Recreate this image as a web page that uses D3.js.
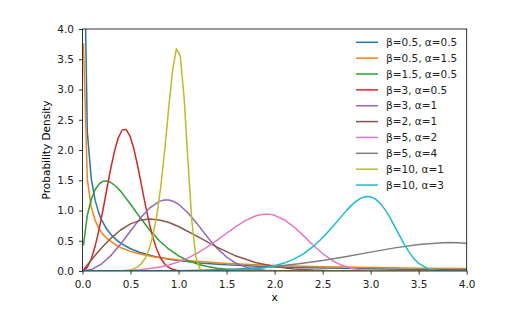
<!DOCTYPE html>
<html>
<head>
<meta charset="utf-8">
<script src="https://cdn.jsdelivr.net/npm/d3@7"></script>
<style>
  body { margin: 0; background: #fff; }
  svg { font-family: "DejaVu Sans", sans-serif; }
</style>
</head>
<body>
<div id="chart"></div>
<script>
// legend labels, one per curve
const labels = [
  'β=0.5, α=0.5', 'β=0.5, α=1.5', 'β=1.5, α=0.5', 'β=3, α=0.5', 'β=3, α=1',
  'β=2, α=1', 'β=5, α=2', 'β=5, α=4', 'β=10, α=1', 'β=10, α=3'
];

// [x, density]
const b05a05 = [[0.01, 6.14], [0.0503, 2.296], [0.0906, 1.535], [0.131, 1.171], [0.171, 0.953], [0.2, 0.840],
  [0.25, 0.697], [0.3, 0.595], [0.35, 0.518], [0.4, 0.457], [0.5, 0.368], [0.6, 0.305], [0.75, 0.240], [0.9, 0.195],
  [1.0, 0.172], [1.25, 0.130], [1.5, 0.102], [2.0, 0.0677], [2.5, 0.0478], [3.0, 0.0353], [3.5, 0.0268], [4.0, 0.0209]];
const b05a15 = [[0.01, 3.763], [0.0503, 1.516], [0.0906, 1.061], [0.131, 0.839], [0.171, 0.704], [0.2, 0.634],
  [0.25, 0.543], [0.35, 0.426], [0.4, 0.385], [0.5, 0.324], [0.6, 0.280], [0.75, 0.232], [1.0, 0.180], [1.5, 0.1226],
  [2.0, 0.0910], [2.5, 0.0710], [3.0, 0.0573], [3.5, 0.0474], [4.0, 0.0399]];
const b15a05 = [[0.01, 0.423], [0.0503, 0.922], [0.0906, 1.182], [0.131, 1.343], [0.171, 1.436], [0.211, 1.482],
  [0.252, 1.489], [0.292, 1.467], [0.35, 1.397], [0.4, 1.312], [0.5, 1.104], [0.6, 0.883], [0.7, 0.677], [0.8, 0.501],
  [0.9, 0.360], [1.0, 0.251], [1.1, 0.170], [1.2, 0.113], [1.3, 0.0731], [1.4, 0.0463], [1.6, 0.0176], [1.8, 0.0061],
  [2.0, 0.002], [2.5, 0.0001], [4.0, 0]];
const b3a05 = [[0.01, 0.0024], [0.0503, 0.0607], [0.0906, 0.196], [0.1309, 0.404], [0.1712, 0.676], [0.2115, 0.996],
  [0.2518, 1.339], [0.2921, 1.678], [0.3324, 1.977], [0.3727, 2.203], [0.413, 2.330], [0.4533, 2.341], [0.4936, 2.234],
  [0.5339, 2.025], [0.5742, 1.740], [0.6145, 1.416], [0.6548, 1.089], [0.6952, 0.790], [0.7355, 0.539], [0.7758, 0.345],
  [0.8161, 0.207], [0.8564, 0.116], [0.8967, 0.0604], [0.937, 0.0293], [0.977, 0.0132], [1.018, 0.0054], [1.2, 0], [4.0, 0]];
const b3a1 = [[0.01, 0.0003], [0.1, 0.03], [0.2, 0.119], [0.3, 0.263], [0.4, 0.450], [0.5, 0.662], [0.6, 0.870],
  [0.7, 1.043], [0.8, 1.151], [0.85, 1.173], [0.9, 1.172], [0.95, 1.149], [1.0, 1.104], [1.1, 0.959], [1.2, 0.767],
  [1.3, 0.563], [1.4, 0.378], [1.5, 0.231], [1.6, 0.128], [1.7, 0.0637], [1.8, 0.0285], [1.9, 0.0114], [2.0, 0.004],
  [2.2, 0.0003], [4.0, 0]];
const b2a1 = [[0.01, 0.02], [0.1, 0.198], [0.2, 0.384], [0.3, 0.548], [0.4, 0.682], [0.5, 0.779], [0.6, 0.837],
  [0.7, 0.858], [0.8, 0.844], [0.9, 0.801], [1.0, 0.736], [1.2, 0.569], [1.4, 0.395], [1.6, 0.247], [1.8, 0.141],
  [2.0, 0.0733], [2.2, 0.0348], [2.4, 0.0151], [2.6, 0.006], [2.8, 0.0022], [3.0, 0.0007], [4.0, 0]];
const b5a2 = [[0.01, 0], [0.4, 0.004], [0.6, 0.0202], [0.8, 0.0633], [0.9, 0.1006], [1.0, 0.1514], [1.1, 0.2176],
  [1.2, 0.2998], [1.3, 0.397], [1.4, 0.5074], [1.5, 0.624], [1.6, 0.7378], [1.7, 0.8374], [1.8, 0.9088], [1.85, 0.9298],
  [1.9, 0.9393], [1.95, 0.936], [2.0, 0.9197], [2.1, 0.848], [2.2, 0.731], [2.3, 0.585], [2.4, 0.430], [2.5, 0.2886],
  [2.6, 0.174], [2.7, 0.0937], [2.8, 0.0444], [2.9, 0.0182], [3.0, 0.0064], [3.2, 0.0005], [4.0, 0]];
const b5a4 = [[0.01, 0], [0.5, 0.0003], [1.0, 0.0049], [1.5, 0.0247], [1.75, 0.0451], [2.0, 0.0757], [2.25, 0.1183],
  [2.5, 0.1734], [2.75, 0.2395], [3.0, 0.312], [3.25, 0.3823], [3.5, 0.4388], [3.75, 0.468], [3.825, 0.470],
  [3.9, 0.468], [4.0, 0.4598]];
const b10a1 = [[0.01, 0], [0.3, 0.0002], [0.413, 0.0035], [0.4533, 0.0081], [0.4936, 0.0174], [0.5339, 0.0352],
  [0.5742, 0.0679], [0.6145, 0.124], [0.6548, 0.218], [0.6952, 0.369], [0.7355, 0.601], [0.7758, 0.941], [0.8161, 1.409],
  [0.8564, 2.004], [0.8967, 2.679], [0.937, 3.305], [0.9773, 3.674], [1.0176, 3.557], [1.0579, 2.868], [1.0982, 1.811],
  [1.1385, 0.829], [1.1788, 0.248], [1.2191, 0.042], [1.2594, 0.0035], [1.3, 0.0002], [4.0, 0]];
const b10a3 = [[0.01, 0], [1.0, 0.0002], [1.5, 0.0065], [1.8, 0.0334], [1.9, 0.0541], [2.0, 0.0852], [2.1, 0.1307],
  [2.2, 0.1954], [2.3, 0.2844], [2.4, 0.4018], [2.5, 0.5497], [2.6, 0.7238], [2.7, 0.9112], [2.75, 1.002], [2.8, 1.085],
  [2.85, 1.154], [2.9, 1.205], [2.95, 1.230], [3.0, 1.226], [3.05, 1.189], [3.1, 1.118], [3.15, 1.015], [3.2, 0.8855],
  [3.25, 0.739], [3.3, 0.5877], [3.35, 0.4408], [3.4, 0.3116], [3.45, 0.2051], [3.5, 0.1247], [3.6, 0.0352],
  [3.7, 0.0064], [3.8, 0.0007], [4.0, 0]];

const series = [b05a05, b05a15, b15a05, b3a05, b3a1, b2a1, b5a2, b5a4, b10a1, b10a3];
const colors = ['#1f77b4', '#ff7f0e', '#2ca02c', '#d62728', '#9467bd', '#8c564b', '#e377c2', '#7f7f7f', '#bcbd22', '#17becf'];
const xTicks = [0, 0.5, 1, 1.5, 2, 2.5, 3, 3.5, 4];
const yTicks = [0, 0.5, 1, 1.5, 2, 2.5, 3, 3.5, 4];

const config = {
  containerWidth: 508,
  containerHeight: 317,
  margin: { top: 29, bottom: 46, right: 41.3, left: 82.5 }
};

const width = config.containerWidth - config.margin.left - config.margin.right;
const height = config.containerHeight - config.margin.top - config.margin.bottom;

const svg = d3.select('#chart').append('svg')
  .attr('width', config.containerWidth)
  .attr('height', config.containerHeight);

const chart = svg.append('g')
  .attr('transform', `translate(${config.margin.left}, ${config.margin.top})`);

chart.append('clipPath').attr('id', 'plot-clip')
  .append('rect').attr('width', width).attr('height', height);

const xScale = d3.scaleLinear().domain([0, 4]).range([0, width]);
const yScale = d3.scaleLinear().domain([0, 4]).range([height, 0]);

const line = d3.line()
  .x(d => xScale(d[0]))
  .y(d => yScale(d[1]));

chart.append('g').attr('clip-path', 'url(#plot-clip)')
  .selectAll('path')
  .data(series)
  .join('path')
  .attr('fill', 'none')
  .attr('stroke', (d, i) => colors[i])
  .attr('stroke-width', 1.5)
  .attr('stroke-linejoin', 'round')
  .attr('d', line);

const xAxis = d3.axisBottom(xScale).tickValues(xTicks).tickFormat(d3.format('.1f')).tickSize(3.5).tickPadding(6);
const yAxis = d3.axisLeft(yScale).tickValues(yTicks).tickFormat(d3.format('.1f')).tickSize(3.5).tickPadding(5);

const xAxisGroup = chart.append('g')
  .attr('transform', `translate(0, ${height})`)
  .call(xAxis);
const yAxisGroup = chart.append('g').call(yAxis);

[xAxisGroup, yAxisGroup].forEach(g => {
  g.select('.domain').remove();
  g.selectAll('.tick line').attr('stroke', '#000').attr('stroke-width', 0.8);
  g.selectAll('.tick text').attr('fill', '#222').style('font-size', '10.5px').style('font-family', '"DejaVu Sans", sans-serif');
});

// frame
chart.append('rect')
  .attr('width', width)
  .attr('height', height)
  .attr('fill', 'none')
  .attr('stroke', '#000')
  .attr('stroke-width', 0.8);

svg.append('text')
  .attr('x', config.margin.left + width / 2)
  .attr('y', 301)
  .attr('text-anchor', 'middle')
  .style('font-size', '10.5px')
  .text('x');

svg.append('text')
  .attr('transform', `translate(50, ${config.margin.top + height / 2}) rotate(-90)`)
  .attr('text-anchor', 'middle')
  .style('font-size', '10.5px')
  .text('Probability Density');

// legend, no frame
const legend = svg.append('g').attr('transform', 'translate(356, 42.3)');
const rows = legend.selectAll('g')
  .data(labels)
  .join('g')
  .attr('transform', (d, i) => `translate(0, ${i * 15.86})`);
rows.append('line')
  .attr('x1', 0).attr('x2', 22)
  .attr('stroke', (d, i) => colors[i])
  .attr('stroke-width', 1.5);
rows.append('text')
  .attr('x', 30)
  .attr('dy', '0.35em')
  .style('font-size', '10.5px')
  .attr('fill', '#222')
  .text(d => d);
</script>
</body>
</html>
